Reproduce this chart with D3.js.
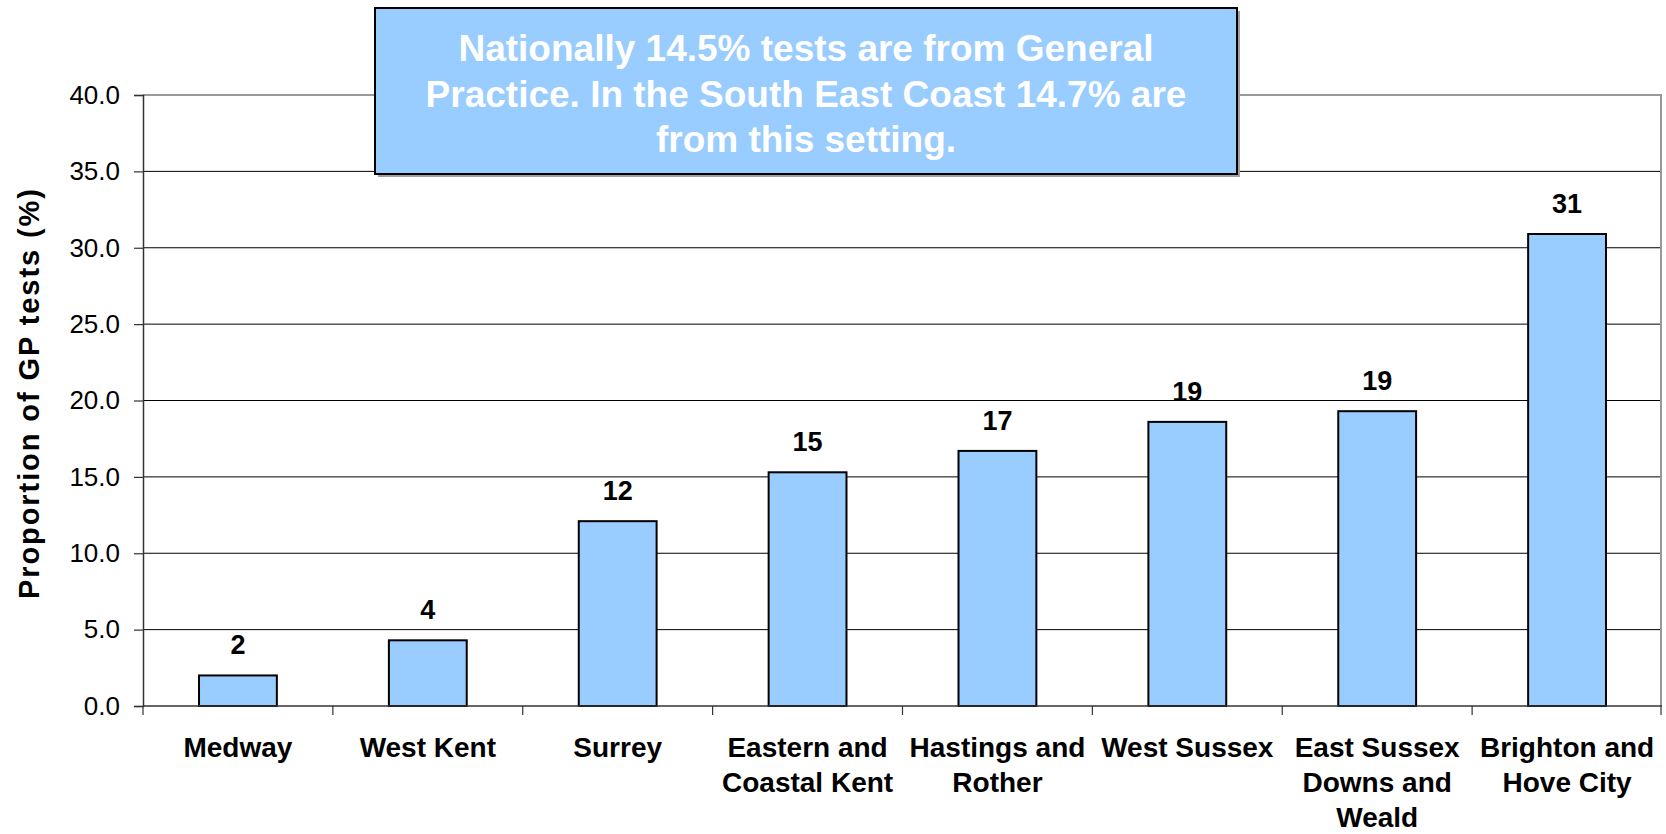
<!DOCTYPE html>
<html>
<head>
<meta charset="utf-8">
<script src="https://cdn.jsdelivr.net/npm/d3@7"></script>
<style>
  html, body { margin: 0; padding: 0; background: #fff; }
  svg { display: block; font-family: "Liberation Sans", Arial, sans-serif; }
</style>
</head>
<body>
<div id="chart"></div>
<script>
// data
const categories = ["Medway", "West Kent", "Surrey", "Eastern and Coastal Kent",
  "Hastings and Rother", "West Sussex", "East Sussex Downs and Weald", "Brighton and Hove City"]
const labelLines = [["Medway"], ["West Kent"], ["Surrey"], ["Eastern and", "Coastal Kent"],
  ["Hastings and", "Rother"], ["West Sussex"], ["East Sussex", "Downs and", "Weald"], ["Brighton and", "Hove City"]]
const values = [2.0, 4.3, 12.1, 15.3, 16.7, 18.6, 19.3, 30.9]
const yTicks = [0, 5, 10, 15, 20, 25, 30, 35, 40]
const yTitle = "Proportion of GP tests (%)"
const noteLines = ["Nationally 14.5% tests are from General",
  "Practice. In the South East Coast 14.7% are",
  "from this setting."]

// DIMENSIONS
let dimensions = {
  width: 1666,
  height: 834,
  margin: { top: 95, right: 4, bottom: 128, left: 143 },
}
dimensions.boundedWidth = dimensions.width - dimensions.margin.left - dimensions.margin.right
dimensions.boundedHeight = dimensions.height - dimensions.margin.top - dimensions.margin.bottom

const wrapper = d3.select("#chart")
  .append("svg")
  .attr("width", dimensions.width)
  .attr("height", dimensions.height)
const bounds = wrapper.append("g")
  .attr("transform", `translate(${dimensions.margin.left},${dimensions.margin.top})`)

// SCALES
const yScale = d3.scaleLinear()
  .domain([0, 40])
  .range([dimensions.boundedHeight, 0])
const slotScale = d3.scaleBand()
  .domain(categories)
  .range([0, dimensions.boundedWidth])
  .padding(0)
const xScale = d3.scaleBand()
  .domain(categories)
  .range([0, dimensions.boundedWidth])
  .paddingInner(0.59)
  .paddingOuter(0.295)

// gridlines (top one is the grey plot border)
bounds.append("g")
  .selectAll("line")
  .data(yTicks.filter(d => d > 0))
  .join("line")
  .attr("x1", 0)
  .attr("x2", dimensions.boundedWidth)
  .attr("y1", d => yScale(d))
  .attr("y2", d => yScale(d))
  .attr("stroke", d => d === 40 ? "#999" : "#000")
  .attr("stroke-width", d => d === 40 ? 2 : 1)
bounds.append("line")
  .attr("x1", dimensions.boundedWidth - 1)
  .attr("x2", dimensions.boundedWidth - 1)
  .attr("y1", yScale(40))
  .attr("y2", yScale(0))
  .attr("stroke", "#999")
  .attr("stroke-width", 2)

// y axis
const yAxis = bounds.append("g")
  .call(d3.axisLeft(yScale).tickValues(yTicks).tickFormat(d3.format(".1f")).tickSize(9).tickPadding(14))
yAxis.select(".domain").attr("stroke", "#333").attr("stroke-width", 1.5)
yAxis.selectAll(".tick line").attr("stroke", "#333").attr("stroke-width", 1.2)
yAxis.selectAll(".tick text")
  .attr("font-size", 26)
  .attr("fill", "#000")
  .attr("font-family", "Liberation Sans, Arial, sans-serif")

// bars
bounds.append("g")
  .selectAll("rect")
  .data(values)
  .join("rect")
  .attr("x", (d, i) => xScale(categories[i]))
  .attr("y", d => yScale(d))
  .attr("width", xScale.bandwidth())
  .attr("height", d => yScale(0) - yScale(d))
  .attr("fill", "#99ccff")
  .attr("stroke", "#000")
  .attr("stroke-width", 2)

// value labels
bounds.append("g")
  .selectAll("text")
  .data(values)
  .join("text")
  .attr("x", (d, i) => xScale(categories[i]) + xScale.bandwidth() / 2)
  .attr("y", d => yScale(d) - 21)
  .attr("text-anchor", "middle")
  .attr("font-size", 27)
  .attr("font-weight", "bold")
  .text(d => d3.format(".0f")(d))

// x axis: baseline + ticks between categories
const xAxisG = bounds.append("g")
xAxisG.append("line")
  .attr("x1", 0)
  .attr("x2", dimensions.boundedWidth)
  .attr("y1", yScale(0))
  .attr("y2", yScale(0))
  .attr("stroke", "#333")
  .attr("stroke-width", 1.5)
const tickXs = categories.map(c => slotScale(c)).concat([dimensions.boundedWidth - 1])
xAxisG.selectAll(".xtick")
  .data(tickXs)
  .join("line")
  .attr("class", "xtick")
  .attr("x1", d => d)
  .attr("x2", d => d)
  .attr("y1", yScale(0))
  .attr("y2", yScale(0) + 9)
  .attr("stroke", "#333")
  .attr("stroke-width", 1.2)

const xLabels = xAxisG.selectAll(".xlabel")
  .data(labelLines)
  .join("text")
  .attr("class", "xlabel")
  .attr("text-anchor", "middle")
  .attr("font-size", 28)
  .attr("font-weight", "bold")
  .attr("transform", (d, i) => `translate(${slotScale(categories[i]) + slotScale.bandwidth() / 2},${yScale(0) + 51})`)
xLabels.selectAll("tspan")
  .data(d => d)
  .join("tspan")
  .attr("x", 0)
  .attr("y", (d, i) => i * 35)
  .text(d => d)

// y title
wrapper.append("text")
  .attr("transform", `translate(38.5,${dimensions.margin.top + 299}) rotate(-90)`)
  .attr("text-anchor", "middle")
  .attr("font-size", 29)
  .attr("font-weight", "bold")
  .attr("textLength", 410)
  .attr("lengthAdjust", "spacing")
  .text(yTitle)

// note box
const box = { x: 375, y: 8, w: 862, h: 166 }
wrapper.append("rect")
  .attr("x", box.x + 3)
  .attr("y", box.y + 3)
  .attr("width", box.w)
  .attr("height", box.h)
  .attr("fill", "#a0a0a0")
wrapper.append("rect")
  .attr("x", box.x)
  .attr("y", box.y)
  .attr("width", box.w)
  .attr("height", box.h)
  .attr("fill", "#99ccff")
  .attr("stroke", "#000")
  .attr("stroke-width", 2)
wrapper.append("g")
  .selectAll("text")
  .data(noteLines)
  .join("text")
  .attr("x", box.x + box.w / 2)
  .attr("y", (d, i) => 61 + i * 45.5)
  .attr("text-anchor", "middle")
  .attr("font-size", 37)
  .attr("font-weight", "bold")
  .attr("fill", "#fff")
  .text(d => d)
</script>
</body>
</html>
